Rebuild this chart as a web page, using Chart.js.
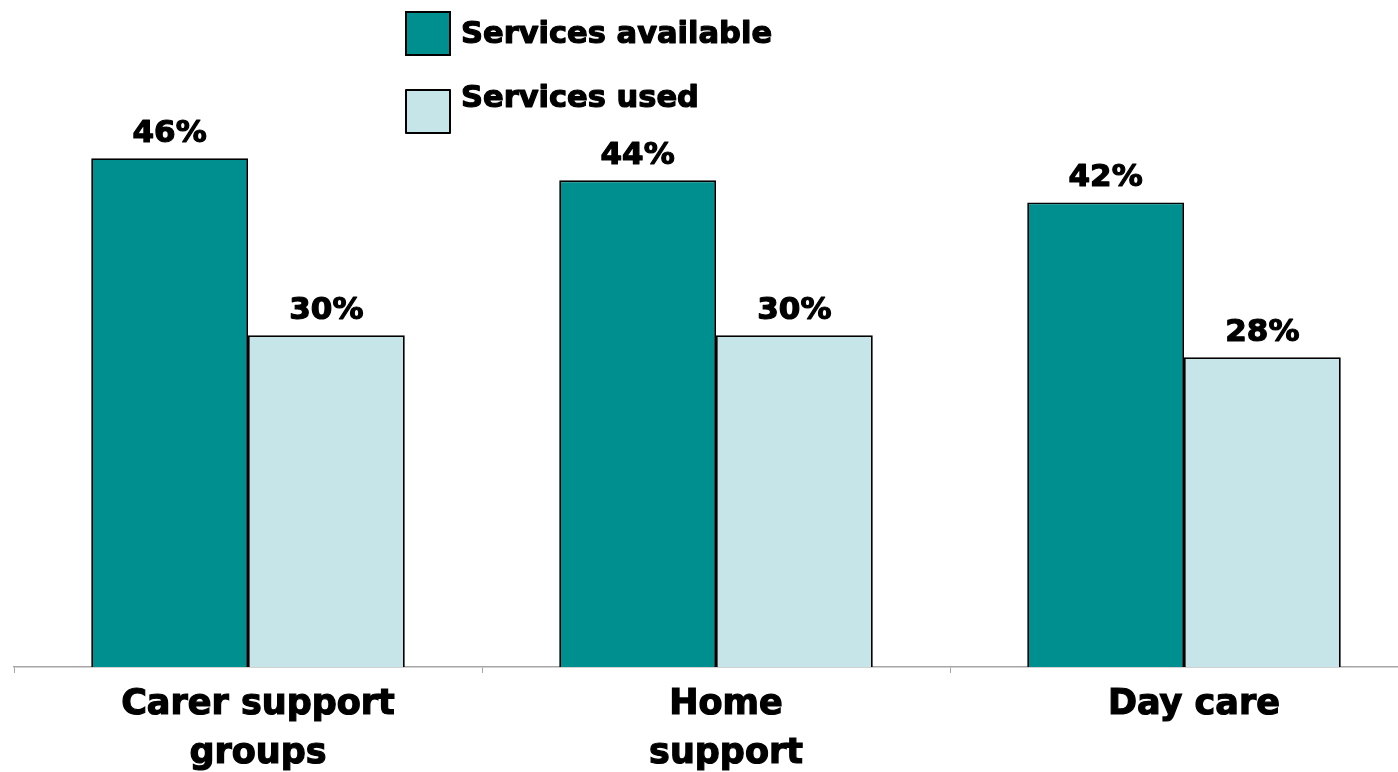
<!DOCTYPE html>
<html>
<head>
<meta charset="utf-8">
<script src="https://cdn.jsdelivr.net/npm/chart.js@4"></script>
<style>
  html, body { margin: 0; padding: 0; background: #fff; overflow: hidden; }
  #wrap { width: 1398px; height: 772px; overflow: hidden; }
</style>
</head>
<body>
<div id="wrap"><canvas id="services" width="1420" height="772"></canvas></div>
<script>
// values
var categories = [['Carer support', 'groups'], ['Home', 'support'], ['Day care']];
var seriesNames = ['Services available', 'Services used'];
var available = [46, 44, 42];
var used = [30, 30, 28];

var teal = '#008f8f';
var lightBlue = '#c6e5e8';
var fontFamily = '"DejaVu Sans", Verdana, sans-serif';

// bold text with a thin outline so it looks as heavy as the original
function heavyText(ctx, text, x, y) {
  ctx.lineWidth = 1.2;
  ctx.strokeStyle = '#000';
  ctx.lineJoin = 'round';
  ctx.strokeText(text, x, y);
  ctx.fillText(text, x, y);
}

// percent label over every bar
var barLabels = {
  id: 'barLabels',
  afterDatasetsDraw: function(chart) {
    var ctx = chart.ctx;
    ctx.save();
    ctx.font = 'bold 31px ' + fontFamily;
    ctx.fillStyle = '#000';
    ctx.textAlign = 'center';
    ctx.textBaseline = 'alphabetic';
    chart.data.datasets.forEach(function(ds, i) {
      chart.getDatasetMeta(i).data.forEach(function(bar, j) {
        heavyText(ctx, ds.data[j] + '%', bar.x, bar.y - 16);
      });
    });
    ctx.restore();
  }
};

// stacked legend with square boxes
var boxLegend = {
  id: 'boxLegend',
  afterDraw: function(chart) {
    var ctx = chart.ctx;
    var rows = [{box: 12, text: 43}, {box: 90, text: 107}];
    ctx.save();
    chart.data.datasets.forEach(function(ds, i) {
      ctx.fillStyle = ds.backgroundColor;
      ctx.fillRect(406, rows[i].box, 44, 43);
      ctx.lineWidth = 2;
      ctx.strokeStyle = '#000';
      ctx.strokeRect(406, rows[i].box, 44, 43);
      ctx.fillStyle = '#000';
      ctx.font = 'bold 30.5px ' + fontFamily;
      ctx.textAlign = 'left';
      ctx.textBaseline = 'alphabetic';
      heavyText(ctx, ds.label, 461, rows[i].text);
    });
    ctx.restore();
  }
};

var chart = new Chart('services', {
  type: 'bar',
  data: {
    labels: categories,
    datasets: [
      {
        label: seriesNames[0],
        data: available,
        backgroundColor: teal,
        borderColor: '#000',
        borderWidth: 1.8,
        barPercentage: 1,
        categoryPercentage: 0.67
      },
      {
        label: seriesNames[1],
        data: used,
        backgroundColor: lightBlue,
        borderColor: '#000',
        borderWidth: 1.8,
        barPercentage: 1,
        categoryPercentage: 0.67
      }
    ]
  },
  options: {
    responsive: false,
    animation: false,
    layout: { padding: { top: 114, left: 14, right: 2, bottom: 0 } },
    plugins: {
      legend: { display: false },
      tooltip: { enabled: false }
    },
    scales: {
      x: {
        grid: {
          drawOnChartArea: false,
          drawTicks: true,
          tickLength: 6,
          color: '#a6a6a6',
          offset: true
        },
        border: { color: '#a6a6a6', width: 1.5 },
        ticks: {
          color: '#000',
          labelOffset: 10,
          padding: 8,
          textStrokeColor: '#000',
          textStrokeWidth: 1.2,
          font: { family: fontFamily, size: 35, weight: 'bold', lineHeight: 1.38 }
        },
        afterFit: function(scale) { scale.height = 105; }
      },
      y: {
        display: false,
        min: 0,
        max: 50
      }
    }
  },
  plugins: [barLabels, boxLegend]
});
</script>
</body>
</html>
